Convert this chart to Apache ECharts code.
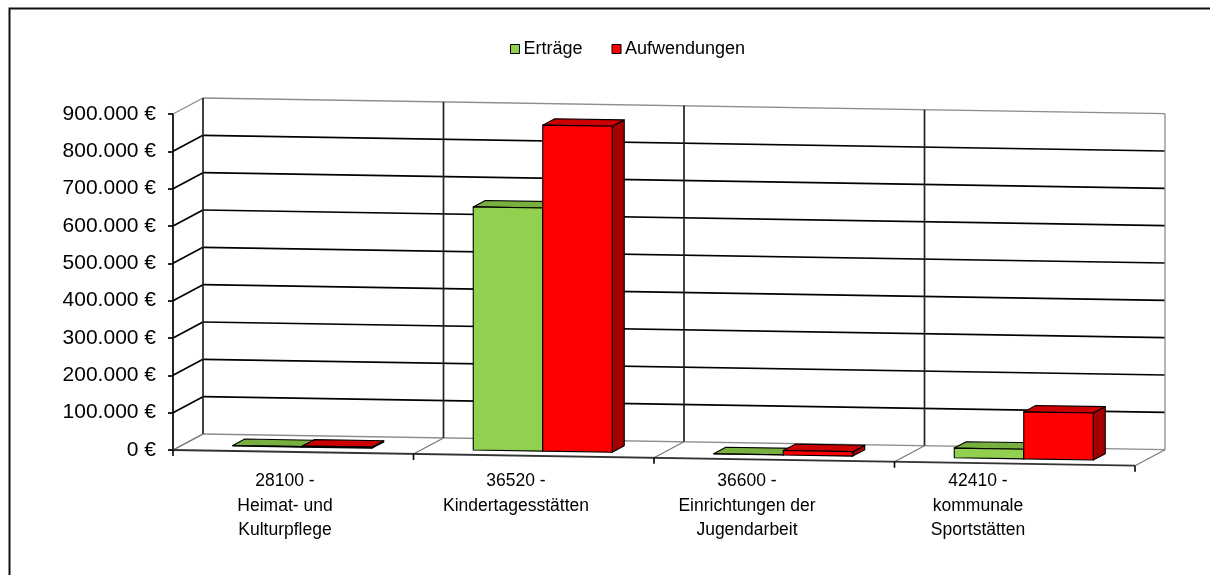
<!DOCTYPE html>
<html><head><meta charset="utf-8">
<script src="https://cdn.jsdelivr.net/npm/echarts@6/dist/echarts.min.js"></script>
<style>html,body{margin:0;padding:0;background:#fff}#c{width:1210px;height:575px}</style>
</head><body><div id="c"></div>
<script>
const categories = ['28100 -\nHeimat- und\nKulturpflege', '36520 -\nKindertagesstätten', '36600 -\nEinrichtungen der\nJugendarbeit', '42410 -\nkommunale\nSportstätten'];
const seriesNames = ['Erträge', 'Aufwendungen'];
const ertraege = [1500, 651000, 500, 26000];
const aufwendungen = [3000, 873000, 12000, 126000];
const yTicks = [0, 100000, 200000, 300000, 400000, 500000, 600000, 700000, 800000, 900000];

const FONT = '"Liberation Sans", Arial, sans-serif';
const SHEAR = 0.0163;
const DEPTH = [30, -16];
const BAR_FRONT = 0.3, BAR_BACK = 0.7, BAR_W = 0.289;
const COLORS = [
  {front: '#92D050', top: '#78B040', side: '#5E8C2E'},
  {front: '#FF0000', top: '#CC0000', side: '#A50000'}
];

function fmt(v) { return String(v).replace(/\B(?=(\d{3})+(?!\d))/g, '.') + ' €'; }

function makeProj(api) {
  const band = api.size([1, 0])[0];
  const x0 = api.coord([0, 0])[0] - band / 2;
  return function (x, val, f) {
    const y = api.coord([0, val])[1];
    return [x + f * DEPTH[0], y + SHEAR * (x - x0) + f * DEPTH[1]];
  };
}

function renderFrame(params, api) {
  const band = api.size([1, 0])[0];
  const x0 = api.coord([0, 0])[0] - band / 2;
  const xEnd = x0 + band * categories.length;
  const P = makeProj(api);
  const top = yTicks[yTicks.length - 1];
  const children = [];
  const line = (a, b, color, w) => children.push({type: 'line', silent: true,
    shape: {x1: a[0], y1: a[1], x2: b[0], y2: b[1]}, style: {stroke: color, lineWidth: w}});
  yTicks.forEach((v, idx) => {
    const edge = idx === 0 || idx === yTicks.length - 1;
    const c = edge ? '#8c8c8c' : '#000';
    const w = edge ? 1.3 : 1.7;
    line(P(x0, v, 1), P(xEnd, v, 1), c, w);
    line(P(x0, v, 0), P(x0, v, 1), c, w);
  });
  for (let i = 0; i <= categories.length; i++) {
    const x = x0 + band * i;
    const last = i === categories.length;
    line(P(x, 0, 1), P(x, top, 1), last ? '#8c8c8c' : '#222', last ? 1.3 : 1.7);
    line(P(x, 0, 0), P(x, 0, 1), '#777', 1.2);
  }
  line(P(x0, 0, 0), P(xEnd, 0, 0), '#333', 1.8);
  for (let i = 0; i <= categories.length; i++) {
    const f = P(x0 + band * i, 0, 0);
    line(f, [f[0], f[1] + 6], '#000', 1.6);
  }
  return {type: 'group', children};
}

function renderBar(s) {
  return function (params, api) {
    const i = api.value(0), v = api.value(1);
    const band = api.size([1, 0])[0];
    const cx = api.coord([i, 0])[0];
    const w = band * BAR_W;
    const xl = cx - w + s * w, xr = xl + w;
    const P = makeProj(api);
    const fl0 = P(xl, 0, BAR_FRONT), fr0 = P(xr, 0, BAR_FRONT);
    const flv = P(xl, v, BAR_FRONT), frv = P(xr, v, BAR_FRONT);
    const blv = P(xl, v, BAR_BACK), brv = P(xr, v, BAR_BACK), br0 = P(xr, 0, BAR_BACK);
    const st = (fill) => ({fill, stroke: '#000', lineWidth: 1.1, lineJoin: 'round'});
    return {type: 'group', children: [
      {type: 'polygon', shape: {points: [fr0, br0, brv, frv]}, style: st(COLORS[s].side)},
      {type: 'polygon', shape: {points: [flv, frv, brv, blv]}, style: st(COLORS[s].top)},
      {type: 'polygon', shape: {points: [fl0, fr0, frv, flv]}, style: st(COLORS[s].front)}
    ]};
  };
}

const chart = echarts.init(document.getElementById('c'), null, {renderer: 'canvas'});
chart.setOption({
  animation: false,
  backgroundColor: '#fff',
  textStyle: {fontFamily: FONT},
  graphic: [{type: 'rect', left: 7, top: 6, shape: {width: 1260, height: 700},
    style: {fill: 'none', stroke: '#111', lineWidth: 2}, silent: true}],
  legend: {
    top: 35, left: 505, itemGap: 29, itemWidth: 9, itemHeight: 9,
    icon: 'rect',
    itemStyle: {borderColor: '#000', borderWidth: 1},
    textStyle: {fontFamily: FONT, fontSize: 18, color: '#000', padding: [0, 0, 0, -1]},
    data: seriesNames
  },
  grid: [
    {left: 173, top: 114, width: 962, height: 336},
    {left: 169.5, top: 100, width: 924, height: 360}
  ],
  xAxis: [
    {type: 'category', gridIndex: 0, data: categories, show: false},
    {type: 'category', gridIndex: 1, data: categories,
      axisLine: {show: false}, axisTick: {show: false},
      axisLabel: {interval: 0, margin: 9, fontFamily: FONT, fontSize: 17.5, lineHeight: 24.5, color: '#000', align: 'center'}}
  ],
  yAxis: [
    {type: 'value', gridIndex: 0, min: 0, max: 900000, interval: 100000,
      axisLine: {show: true, lineStyle: {color: '#000', width: 1.7}},
      axisTick: {show: true, inside: false, length: 5, lineStyle: {color: '#000', width: 1.7}},
      splitLine: {show: false},
      axisLabel: {margin: 17, fontFamily: FONT, fontSize: 21, color: '#000', formatter: fmt}},
    {type: 'value', gridIndex: 1, show: false}
  ],
  series: [
    {type: 'custom', name: '_frame', xAxisIndex: 0, yAxisIndex: 0, data: [[0, 0]],
      encode: {x: 0, y: 1}, renderItem: renderFrame, silent: true, z: 1},
    {type: 'custom', name: seriesNames[0], xAxisIndex: 0, yAxisIndex: 0,
      itemStyle: {color: COLORS[0].front},
      data: ertraege.map((v, i) => [i, v]), encode: {x: 0, y: 1}, renderItem: renderBar(0), z: 2},
    {type: 'custom', name: seriesNames[1], xAxisIndex: 0, yAxisIndex: 0,
      itemStyle: {color: COLORS[1].front},
      data: aufwendungen.map((v, i) => [i, v]), encode: {x: 0, y: 1}, renderItem: renderBar(1), z: 3}
  ]
});
</script></body></html>
